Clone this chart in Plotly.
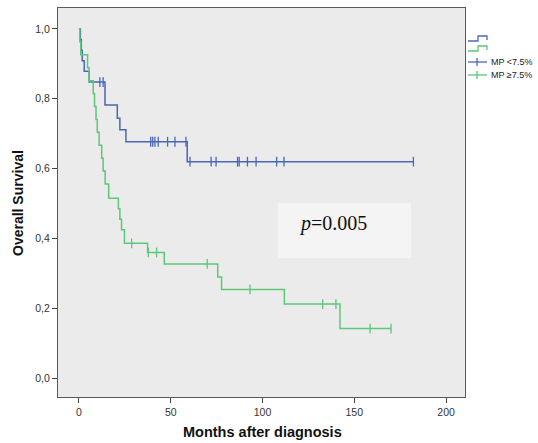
import plotly.graph_objects as go

# ---------------- data ----------------
blue_name = "MP <7.5%"
blue_t = [0, 0.8, 1.3, 1.8, 2.9, 5.6, 14.2, 20.9, 22.3, 25.6, 59.0, 182.2]
blue_s = [1.0, 0.970, 0.939, 0.909, 0.879, 0.848, 0.782, 0.744, 0.711, 0.677, 0.620, 0.620]
blue_censor = [11.4, 13.2, 39.1, 40.2, 41.4, 43.2, 48.3, 52.3, 58.3, 60.5, 72.0,
               74.7, 86.4, 87.3, 91.8, 96.5, 107.7, 111.7, 182.2]

green_name = "MP \u22657.5%"
green_t = [0, 0.5, 1.0, 4.7, 5.5, 7.8, 8.5, 9.3, 10.0, 11.0, 12.4, 13.2, 14.3, 16.2,
           21.5, 22.3, 23.2, 24.8, 37.4, 46.5, 75.6, 77.7, 111.9, 142.2, 170.0]
green_s = [1.0, 0.963, 0.926, 0.889, 0.852, 0.815, 0.778, 0.741, 0.704, 0.667, 0.630,
           0.593, 0.556, 0.515, 0.485, 0.455, 0.425, 0.386, 0.360, 0.327, 0.290, 0.254,
           0.212, 0.142, 0.142]
green_censor = [28.7, 37.8, 42.3, 69.9, 93.2, 132.8, 140.0, 158.6, 170.0]

x_ticks = [0, 50, 100, 150, 200]
y_ticks = [0.0, 0.2, 0.4, 0.6, 0.8, 1.0]
y_ticklabels = ["0,0", "0,2", "0,4", "0,6", "0,8", "1,0"]
p_text = "<i>p</i>=0.005"

BLUE = "#4a68b8"
GREEN = "#5cc878"

W, H = 538, 443
L, R, T, B = 58, 465, 8, 397


def step_value(t, times, surv):
    v = surv[0]
    for ti, si in zip(times, surv):
        if ti <= t:
            v = si
    return v


def px(x):
    return (x - L) / (R - L)


def py(y):
    return (B - y) / (B - T)


fig = go.Figure()
for times, surv, cens, col in [(blue_t, blue_s, blue_censor, BLUE),
                               (green_t, green_s, green_censor, GREEN)]:
    fig.add_trace(go.Scatter(x=times, y=surv, mode="lines", line_shape="hv",
                             line=dict(color=col, width=1.5), showlegend=False,
                             hoverinfo="skip"))
    fig.add_trace(go.Scatter(x=cens, y=[step_value(c, times, surv) for c in cens],
                             mode="markers",
                             marker=dict(symbol="line-ns", size=7,
                                         line=dict(color=col, width=1.3)),
                             showlegend=False, hoverinfo="skip"))

shapes = []
# p-value box
shapes.append(dict(type="rect", xref="paper", yref="paper",
                   x0=px(278), x1=px(411), y0=py(258), y1=py(203),
                   fillcolor="#f4f4f4", line=dict(width=0), layer="below"))


def path(points):
    s = "M %f,%f" % (px(points[0][0]), py(points[0][1]))
    for a, b in points[1:]:
        s += " L %f,%f" % (px(a), py(b))
    return s


# legend glyphs
shapes.append(dict(type="path", xref="paper", yref="paper",
                   path=path([(468, 41), (478, 41), (478, 36), (487, 36), (487, 40)]),
                   line=dict(color=BLUE, width=1.3)))
shapes.append(dict(type="path", xref="paper", yref="paper",
                   path=path([(468, 51), (478, 51), (478, 46), (487, 46), (487, 50)]),
                   line=dict(color=GREEN, width=1.3)))
for yy, col in [(62, BLUE), (75, GREEN)]:
    shapes.append(dict(type="line", xref="paper", yref="paper",
                       x0=px(468), x1=px(487), y0=py(yy), y1=py(yy),
                       line=dict(color=col, width=1.3)))
    shapes.append(dict(type="line", xref="paper", yref="paper",
                       x0=px(477), x1=px(477), y0=py(yy - 4), y1=py(yy + 4),
                       line=dict(color=col, width=1.3)))

annotations = [
    dict(text=p_text, xref="paper", yref="paper", x=px(297), y=py(224),
         xanchor="left", yanchor="middle", showarrow=False,
         font=dict(family="Liberation Serif", size=20, color="#111")),
    dict(text=blue_name, xref="paper", yref="paper", x=px(489), y=py(62),
         xanchor="left", yanchor="middle", showarrow=False,
         font=dict(family="Liberation Sans", size=9, color="#222")),
    dict(text=green_name, xref="paper", yref="paper", x=px(489), y=py(75),
         xanchor="left", yanchor="middle", showarrow=False,
         font=dict(family="Liberation Sans", size=9, color="#222")),
    dict(text="<b>Overall Survival</b>", xref="paper", yref="paper", x=px(18),
         y=py(203), xanchor="center", yanchor="middle", textangle=-90,
         showarrow=False, font=dict(family="Liberation Sans", size=14, color="#111")),
    dict(text="<b>Months after diagnosis</b>", xref="paper", yref="paper",
         x=px(262), y=py(432), xanchor="center", yanchor="middle",
         showarrow=False, font=dict(family="Liberation Sans", size=14.5, color="#111")),
]

fig.update_layout(
    width=W, height=H,
    margin=dict(l=L, r=W - R, t=T, b=H - B, pad=0),
    paper_bgcolor="white", plot_bgcolor="#ebebeb",
    shapes=shapes, annotations=annotations,
    font=dict(family="Liberation Sans", size=10.5, color="#333"),
    xaxis=dict(range=[-11.4, 210.3], tickvals=x_ticks, showgrid=False,
               zeroline=False, showline=True, mirror=True, linecolor="#5a5a5a",
               linewidth=1.3, ticks="outside", ticklen=5, tickcolor="#444",
               tickwidth=1, fixedrange=True, automargin=False),
    yaxis=dict(range=[-0.054, 1.060], tickvals=y_ticks, ticktext=y_ticklabels,
               showgrid=False, zeroline=False, showline=True, mirror=True,
               linecolor="#5a5a5a", linewidth=1.3, ticks="outside", ticklen=5,
               tickcolor="#444", tickwidth=1, fixedrange=True, automargin=False),
)

fig.write_html("out.html",
               config={"displayModeBar": False},
               post_script="document.body.style.margin='0';"
                           "document.body.style.overflow='hidden';")
